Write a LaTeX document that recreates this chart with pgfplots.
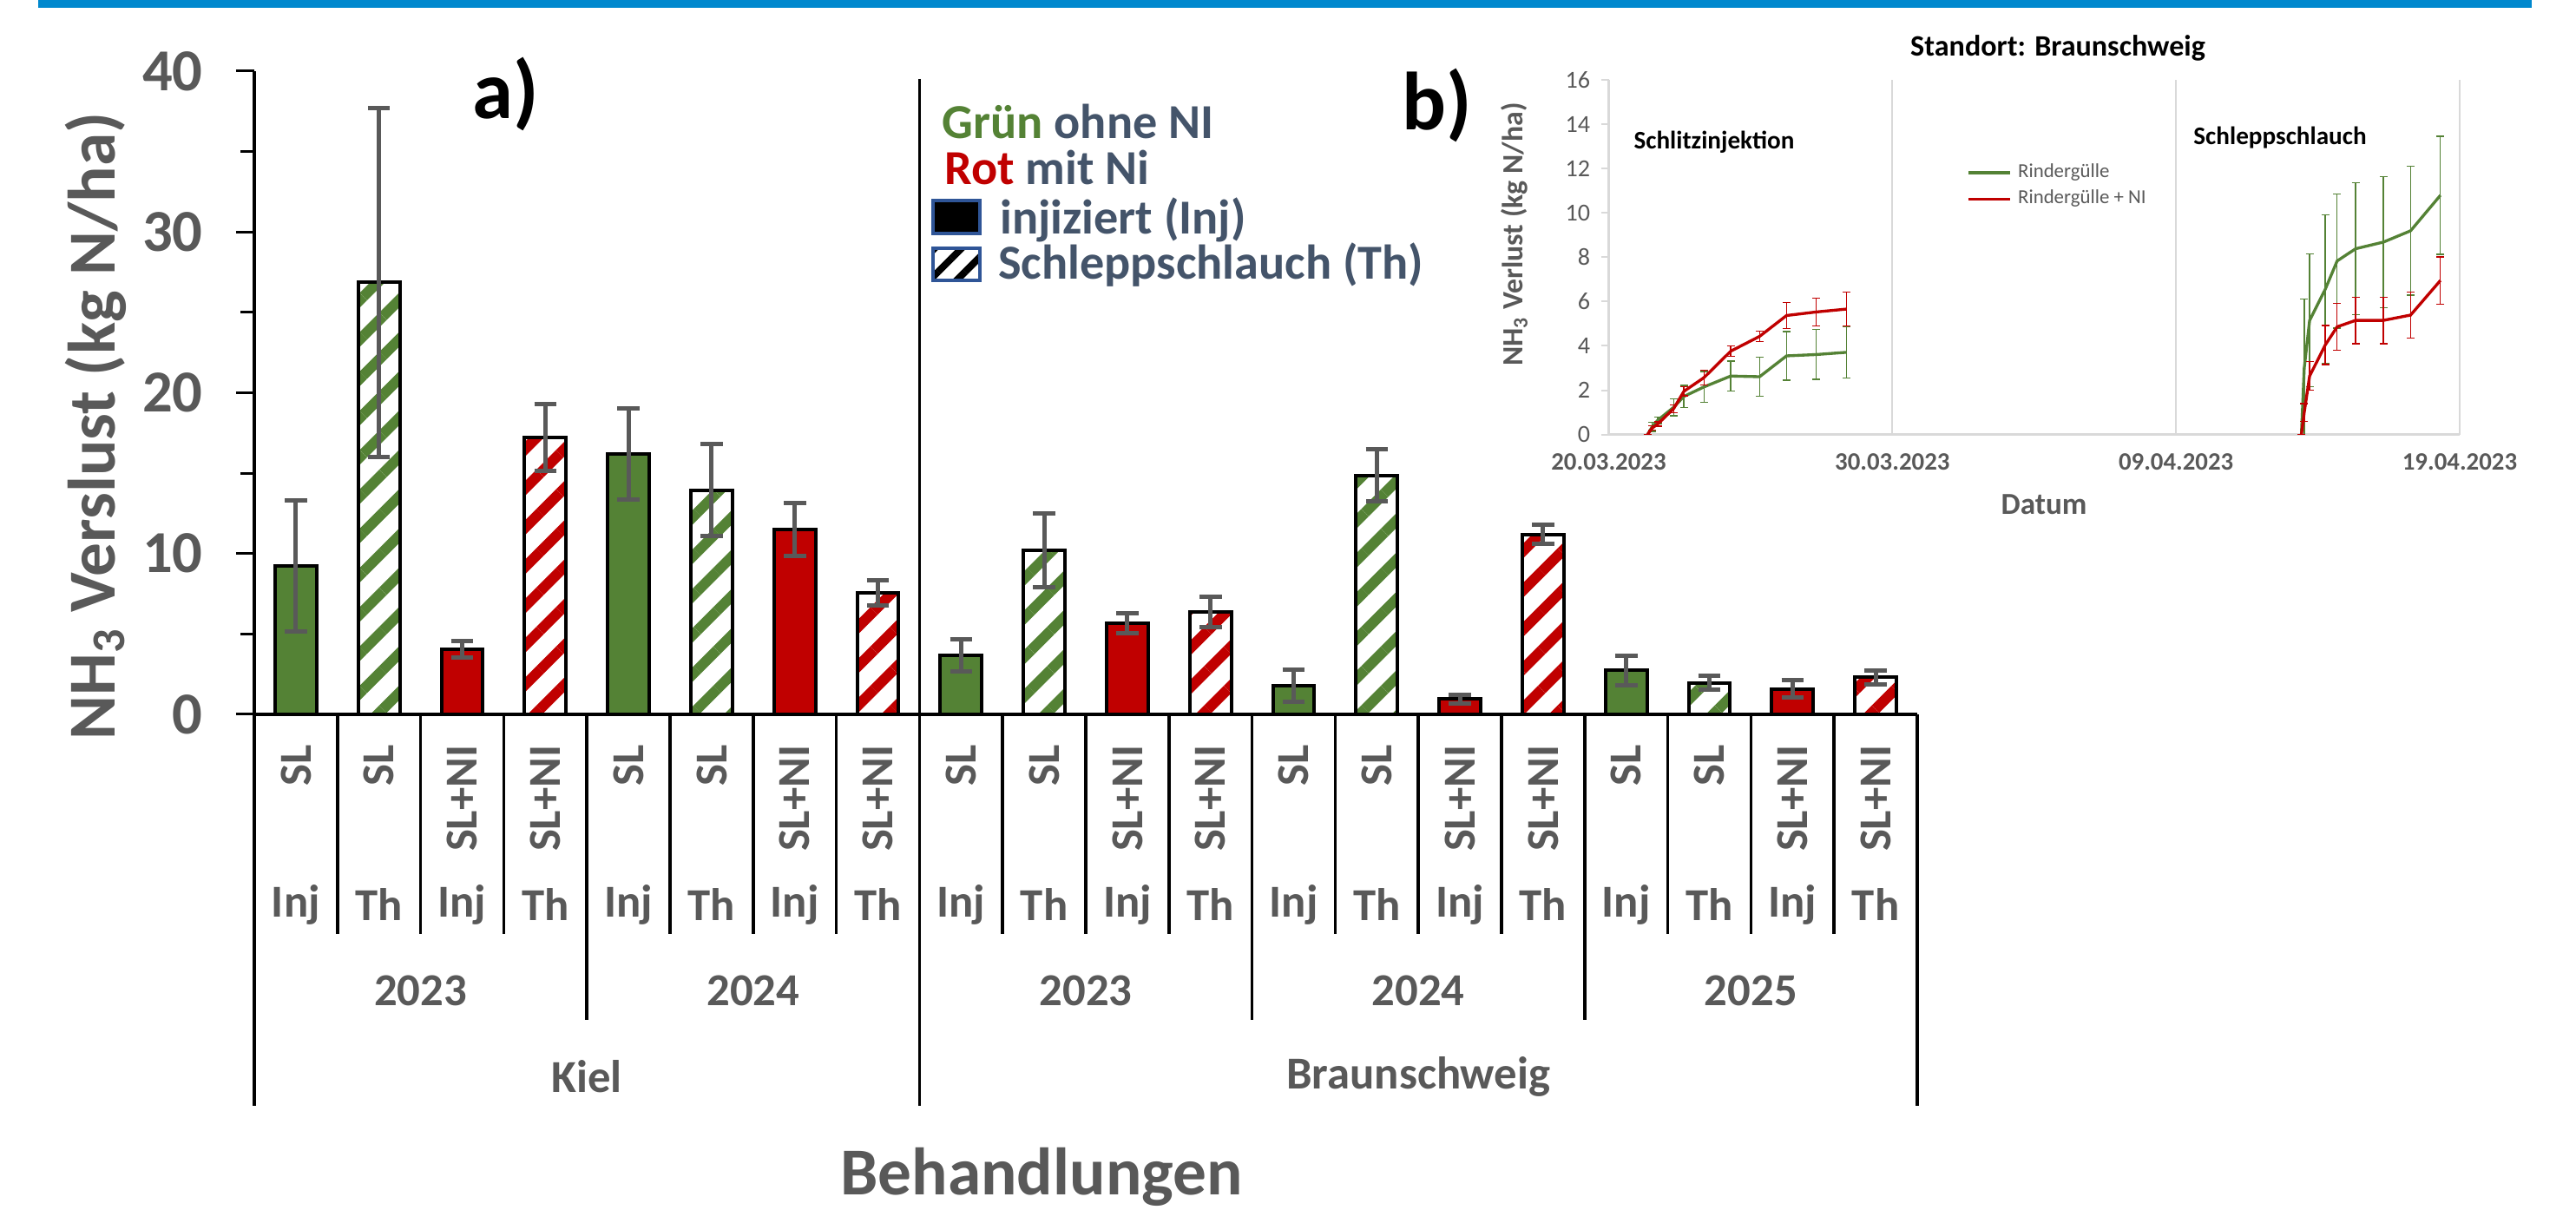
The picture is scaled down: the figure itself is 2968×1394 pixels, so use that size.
\documentclass[border=0pt]{standalone}
\usepackage{fontspec}
\setmainfont{Carlito}
\usepackage{pgfplots}
\pgfplotsset{compat=1.18}
\usetikzlibrary{patterns.meta}

\definecolor{cgreen}{RGB}{84,130,53}
\definecolor{cred}{RGB}{192,0,0}
\definecolor{cgray}{RGB}{89,89,89}
\definecolor{ctext}{RGB}{68,84,106}
\definecolor{cblue}{RGB}{0,136,206}
\definecolor{cborder}{RGB}{47,85,151}
\definecolor{cgrid}{RGB}{217,217,217}

\pgfplotstableread{
x y e
0 9.23 4.09
4 16.20 2.85
8 3.66 1.00
12 1.78 1.00
16 2.73 0.93
}\greeninj
\pgfplotstableread{
x y e
1 26.87 10.84
5 13.94 2.87
9 10.20 2.31
13 14.87 1.64
17 1.96 0.42
}\greenth
\pgfplotstableread{
x y e
2 4.06 0.50
6 11.49 1.64
10 5.66 0.64
14 0.95 0.28
18 1.59 0.52
}\redinj
\pgfplotstableread{
x y e
3 17.22 2.07
7 7.54 0.78
11 6.38 0.93
15 11.19 0.59
19 2.31 0.43
}\redth

\pgfplotstableread{
d v e
1.37 0.00 0.00
1.53 0.35 0.20
1.73 0.65 0.15
2.29 1.23 0.38
2.65 1.72 0.50
3.36 2.15 0.70
4.30 2.64 0.67
5.32 2.61 0.88
6.27 3.55 1.10
7.32 3.61 1.12
8.38 3.71 1.15
}\gA
\pgfplotstableread{
d v e
24.42 0.00 0.00
24.52 3.00 3.10
24.71 5.15 3.00
25.26 6.55 3.35
25.68 7.83 3.03
26.33 8.38 2.98
27.31 8.68 2.96
28.27 9.19 2.90
29.32 10.79 2.66
}\gB
\pgfplotstableread{
d v e
1.37 0.00 0.00
1.53 0.29 0.10
1.73 0.48 0.10
2.29 1.17 0.18
2.65 1.95 0.20
3.36 2.57 0.33
4.30 3.76 0.23
5.32 4.43 0.23
6.27 5.37 0.60
7.32 5.53 0.63
8.38 5.66 0.76
}\rA
\pgfplotstableread{
d v e
24.42 0.00 0.00
24.52 1.00 0.40
24.71 2.64 0.65
25.26 4.04 0.88
25.68 4.86 1.05
26.33 5.15 1.05
27.31 5.15 1.05
28.27 5.39 1.03
29.32 6.95 1.06
}\rB

\begin{document}
\begin{tikzpicture}
% ---------------- main bar chart ----------------
\begin{axis}[
  at={(29.3mm,-82.3mm)}, anchor=south west,
  scale only axis, width=191.6mm, height=74.1mm,
  xmin=-0.5, xmax=19.5, ymin=0, ymax=40,
  axis x line*=bottom, axis y line*=left,
  axis line style={draw=none},
  xtick=\empty,
  ytick={0,10,20,30,40}, minor ytick={5,15,25,35},
  tick align=outside, major tick length=2.1mm, minor tick length=1.6mm,
  ytick style={black, line width=0.3mm},
  minor tick style={black, line width=0.3mm},
  /pgf/number format/assume math mode=true,
  yticklabel style={font=\fontsize{19.5}{23}\selectfont\bfseries, text=cgray, xshift=-2.6mm},
  error bars/error bar style={cgray, line width=0.5mm},
  error bars/error mark options={rotate=90, cgray, line width=0.5mm, mark size=1.28mm},
]
\addplot[ybar, bar width=0.5, bar shift=0pt, fill=cgreen, draw=black, line width=0.4mm,
  error bars/.cd, y dir=both, y explicit]
  table[x=x, y=y, y error=e] {\greeninj};
\addplot[ybar, bar width=0.5, bar shift=0pt, draw=black, line width=0.4mm,
  pattern={Lines[angle=45,distance=3.2mm,line width=1.2mm]}, pattern color=cgreen,
  error bars/.cd, y dir=both, y explicit]
  table[x=x, y=y, y error=e] {\greenth};
\addplot[ybar, bar width=0.5, bar shift=0pt, fill=cred, draw=black, line width=0.4mm,
  error bars/.cd, y dir=both, y explicit]
  table[x=x, y=y, y error=e] {\redinj};
\addplot[ybar, bar width=0.5, bar shift=0pt, draw=black, line width=0.4mm,
  pattern={Lines[angle=45,distance=3.2mm,line width=1.2mm]}, pattern color=cred,
  error bars/.cd, y dir=both, y explicit]
  table[x=x, y=y, y error=e] {\redth};
\end{axis}

% ---------------- inset line chart ----------------
\begin{axis}[
  at={(185.35mm,-50.07mm)}, anchor=south west,
  scale only axis, width=98.05mm, height=40.88mm,
  xmin=0, xmax=30, ymin=0, ymax=16,
  axis x line*=bottom, axis y line*=left,
  axis line style={cgrid, line width=0.25mm, -},
  xtick={0,10,20,30},
  xticklabels={20.03.2023,30.03.2023,09.04.2023,19.04.2023},
  xmajorgrids, grid style={cgrid, line width=0.2mm},
  ytick={0,2,4,6,8,10,12,14,16},
  tick align=outside, major tick length=0.9mm,
  xtick style={draw=none},
  ytick style={cgrid, line width=0.2mm},
  /pgf/number format/assume math mode=true,
  yticklabel style={font=\fontsize{8}{9}\selectfont, text=cgray},
  xticklabel style={font=\fontsize{8.2}{9}\selectfont\bfseries, text=cgray},
  legend style={at={(axis description cs:0.41,0.80)}, anchor=north west,
    draw=none, fill=none, font=\fontsize{6.5}{7.5}\selectfont, text=cgray,
    row sep=-0.45mm},
  legend cell align=left,
  legend image code/.code={\draw[#1] (0mm,0mm) -- (4.8mm,0mm);},
  error bars/error mark options={rotate=90, line width=0.37pt, mark size=0.45mm},
]
\addlegendimage{cgreen, line width=0.95pt}
\addlegendentry{Rindergülle}
\addlegendimage{cred, line width=0.95pt}
\addlegendentry{Rindergülle + NI}
\addplot[forget plot, cgreen, line width=0.95pt,
  error bars/.cd, y dir=both, y explicit,
  error bar style={cgreen, line width=0.37pt}]
  table[x=d, y=v, y error=e] {\gA};
\addplot[forget plot, cgreen, line width=0.95pt,
  error bars/.cd, y dir=both, y explicit,
  error bar style={cgreen, line width=0.37pt}]
  table[x=d, y=v, y error=e] {\gB};
\addplot[forget plot, cred, line width=0.95pt,
  error bars/.cd, y dir=both, y explicit,
  error bar style={cred, line width=0.37pt}]
  table[x=d, y=v, y error=e] {\rA};
\addplot[forget plot, cred, line width=0.95pt,
  error bars/.cd, y dir=both, y explicit,
  error bar style={cred, line width=0.37pt}]
  table[x=d, y=v, y error=e] {\rB};
\end{axis}

% ---------------- decorations in pixel units ----------------
\begin{scope}[x=0.1mm, y=-0.1mm]
\fill[cblue] (44,0) rectangle (2917,8.7);
% axis lines
\draw[black, line width=0.4mm] (293,82) -- (293,1274);
\draw[black, line width=0.45mm] (291,823) -- (2209,823);
% category table
\foreach \k in {1,...,20}
  \draw[black, line width=0.35mm] ({293+95.8*\k},823) -- ({293+95.8*\k},1076);
\foreach \k in {4,12,16}
  \draw[black, line width=0.35mm] ({293+95.8*\k},1076) -- ({293+95.8*\k},1175);
\draw[black, line width=0.35mm] ({293+95.8*20},1076) -- ({293+95.8*20},1274);
\draw[black, line width=0.3mm] ({293+95.8*8},91) -- ({293+95.8*8},1274);
% rotated treatment labels
\foreach \i/\t in {0/SL,1/SL,2/SL+NI,3/SL+NI,4/SL,5/SL,6/SL+NI,7/SL+NI,8/SL,9/SL,10/SL+NI,11/SL+NI,12/SL,13/SL,14/SL+NI,15/SL+NI,16/SL,17/SL,18/SL+NI,19/SL+NI}
  \node[rotate=90, anchor=east, inner sep=0pt, font=\fontsize{15}{17}\selectfont\bfseries, text=cgray]
    at ({293+95.8*(\i+0.5)},858) {\t};
\foreach \i/\t in {0/Inj,1/Th,2/Inj,3/Th,4/Inj,5/Th,6/Inj,7/Th,8/Inj,9/Th,10/Inj,11/Th,12/Inj,13/Th,14/Inj,15/Th,16/Inj,17/Th,18/Inj,19/Th}
  \node[inner sep=0pt, font=\fontsize{15}{17}\selectfont\bfseries, text=cgray]
    at ({293+95.8*(\i+0.5)},1042) {\t};
\foreach \g/\t in {0/2023,1/2024,2/2023,3/2024,4/2025}
  \node[inner sep=0pt, font=\fontsize{15}{17}\selectfont\bfseries, text=cgray]
    at ({293+95.8*(4*\g+2)},1141) {\t};
\node[inner sep=0pt, font=\fontsize{15}{17}\selectfont\bfseries, text=cgray] at ({293+95.8*4},1240) {Kiel};
\node[inner sep=0pt, font=\fontsize{15}{17}\selectfont\bfseries, text=cgray] at ({293+95.8*14},1240) {Braunschweig};
% axis titles
\node[anchor=base, inner sep=0pt, font=\fontsize{22}{26}\selectfont\bfseries, text=cgray] at (1200,1376) {Behandlungen};
\node[rotate=90, inner sep=0pt, font=\fontsize{22}{26}\selectfont\bfseries, text=cgray] at (110,491) {NH\textsubscript{3} Verslust (kg N/ha)};
% panel letters
\node[anchor=base west, inner sep=0pt, font=\fontsize{27}{30}\selectfont\bfseries] at (544,137) {a)};
\node[anchor=base west, inner sep=0pt, font=\fontsize{27}{30}\selectfont\bfseries] at (1615,150) {b)};
% main legend
\node[anchor=base west, inner sep=0pt, font=\fontsize{16}{19}\selectfont\bfseries] at (1085,160) {\textcolor{cgreen}{Grün} \textcolor{ctext}{ohne NI}};
\node[anchor=base west, inner sep=0pt, font=\fontsize{16}{19}\selectfont\bfseries] at (1088,213) {\textcolor{cred}{Rot} \textcolor{ctext}{mit Ni}};
\draw[cborder, line width=0.4mm, fill=black] (1074.8,231.3) rectangle (1128.8,268.7);
\fill[white] (1074.8,286.3) rectangle (1128.8,323);
\fill[pattern={Lines[angle=45,distance=2.2mm,line width=0.8mm]}, pattern color=black] (1074.8,286.3) rectangle (1128.8,323);
\draw[cborder, line width=0.4mm] (1074.8,286.3) rectangle (1128.8,323);
\node[anchor=base west, inner sep=0pt, font=\fontsize{16}{19}\selectfont\bfseries, text=ctext] at (1151.6,270) {injiziert (Inj)};
\node[anchor=base west, inner sep=0pt, font=\fontsize{16}{19}\selectfont\bfseries, text=ctext] at (1149.5,321.7) {Schleppschlauch (Th)};
% inset texts
\node[inner sep=0pt, font=\fontsize{9.7}{11}\selectfont\bfseries] at (2371,55) {Standort: Braunschweig};
\node[inner sep=0pt, font=\fontsize{8.3}{10}\selectfont\bfseries] at (1975,164) {Schlitzinjektion};
\node[inner sep=0pt, font=\fontsize{8.3}{10}\selectfont\bfseries] at (2627,159) {Schleppschlauch};
\node[inner sep=0pt, font=\fontsize{10}{12}\selectfont\bfseries, text=cgray] at (2355,581) {Datum};
\node[rotate=90, inner sep=0pt, font=\fontsize{9.6}{11}\selectfont\bfseries, text=cgray] at (1745,270) {NH\textsubscript{3} Verlust (kg N/ha)};
\pgfresetboundingbox
\useasboundingbox (0,0) rectangle (2968,1394);
\end{scope}
\end{tikzpicture}
\end{document}
